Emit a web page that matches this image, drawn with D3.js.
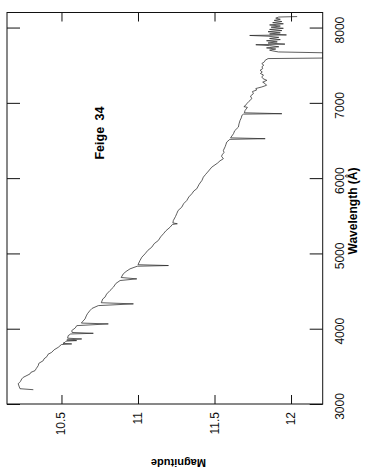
<!DOCTYPE html>
<html>
<head>
<meta charset="utf-8">
<script src="https://cdn.jsdelivr.net/npm/d3@7"></script>
<style>
  body { margin: 0; background: #fff; }
  svg { display: block; font-family: "Liberation Sans", Arial, sans-serif; }
  .tick text { font-size: 12px; fill: #111; }
  .tick line { stroke: #111; stroke-width: 1; }
</style>
</head>
<body>
<svg id="chart" width="366" height="473"></svg>
<script>
// spectrum of Feige 34
const wavelength = [
  3190, 3203, 3240, 3270, 3285, 3300, 3332, 3354, 3399, 3420, 3443, 3470, 3509, 3540, 3576, 3600, 3630, 3660, 3686, 3720, 3753,
  3790, 3798, 3806, 3819, 3835, 3842, 3850, 3864, 3874, 3908, 3930, 3939, 3950, 3975, 4010, 4041,
  4064, 4075, 4100, 4130, 4170, 4200, 4241, 4270, 4307, 4330, 4345, 4396, 4418, 4460, 4507, 4551, 4600, 4640, 4662, 4680,
  4729, 4760, 4795, 4830, 4839, 4850, 4906, 4950, 4995, 5040, 5083, 5130, 5172, 5220, 5261, 5300, 5349, 5385, 5394, 5405, 5437,
  5490, 5527, 5570, 5614, 5660, 5703, 5750, 5793, 5830, 5859, 5920, 5970, 6013, 6050, 6080, 6146, 6200, 6230, 6258, 6290, 6310, 6340, 6368, 6420,
  6450, 6479, 6515, 6524, 6535, 6590, 6630, 6678, 6720, 6767, 6800, 6834, 6850, 6856, 6868, 6900, 6940, 6950, 6960, 6989,
  7020, 7056, 7090, 7122, 7150, 7170, 7190, 7211, 7233, 7255, 7275, 7299, 7320, 7343, 7370, 7390, 7410, 7432, 7455, 7480, 7500, 7521, 7545, 7565, 7588,
  7595, 7665, 7676, 7690, 7700, 7715, 7730, 7745, 7760, 7772, 7780, 7795, 7810, 7825, 7840,
  7855, 7870, 7885, 7895, 7902, 7915, 7930, 7945, 7960, 7975, 7990, 8005, 8020, 8035, 8050,
  8065, 8080, 8095, 8110, 8125, 8140, 8146
];
const magnitude = [
  10.316, 10.229, 10.222, 10.217, 10.226, 10.232, 10.240, 10.250, 10.294, 10.300, 10.327, 10.335, 10.348, 10.352, 10.381, 10.386, 10.405, 10.412, 10.436, 10.452, 10.479,
  10.500, 10.567, 10.510, 10.523, 10.530, 10.599, 10.535, 10.632, 10.540, 10.544, 10.560, 10.708, 10.570, 10.567, 10.590, 10.600,
  10.806, 10.630, 10.640, 10.654, 10.662, 10.670, 10.686, 10.700, 10.741, 10.970, 10.760, 10.770, 10.784, 10.795, 10.817, 10.839, 10.855, 10.883, 10.992, 10.890,
  10.904, 10.922, 10.948, 10.995, 11.199, 11.000, 11.013, 11.025, 11.046, 11.064, 11.090, 11.106, 11.133, 11.148, 11.166, 11.182, 11.210, 11.225, 11.257, 11.228, 11.231,
  11.245, 11.253, 11.262, 11.286, 11.298, 11.319, 11.332, 11.352, 11.365, 11.384, 11.400, 11.418, 11.427, 11.442, 11.455, 11.482, 11.520, 11.536, 11.558, 11.546, 11.550, 11.562, 11.558, 11.570,
  11.575, 11.580, 11.600, 11.831, 11.605, 11.624, 11.632, 11.656, 11.660, 11.667, 11.675, 11.679, 11.690, 11.940, 11.695, 11.700, 11.715, 11.692, 11.700, 11.711,
  11.725, 11.744, 11.735, 11.754, 11.748, 11.775, 11.770, 11.809, 11.840, 11.831, 11.815, 11.842, 11.818, 11.809, 11.820, 11.800, 11.812, 11.798, 11.815, 11.810, 11.822, 11.809, 11.826, 11.831, 11.850,
  12.210, 12.210, 11.918, 11.880, 11.860, 11.900, 11.840, 11.920, 11.860, 11.770, 11.960, 11.850, 11.910, 11.840, 11.930,
  11.860, 11.920, 11.850, 11.730, 11.970, 11.860, 11.930, 11.850, 11.940, 11.860, 11.950, 11.870, 11.930, 11.860, 11.950,
  11.880, 11.940, 11.890, 11.930, 11.900, 11.920, 12.040
];
const wavelengthTicks = [3000, 4000, 5000, 6000, 7000, 8000];
const magnitudeTicks = [10.5, 11, 11.5, 12];

const svg = d3.select('#chart');
const plotLeft = 7, plotRight = 322.7, plotTop = 12.5, plotBottom = 404;

// magnitude runs left -> right, wavelength bottom -> top (the page is turned)
const x = d3.scaleLinear().domain([10.144, 12.207]).range([plotLeft, plotRight]);
const y = d3.scaleLinear().domain([3000, 8200]).range([plotBottom, plotTop]);

svg.append('rect').attr('width', 366).attr('height', 473).attr('fill', '#fff');

svg.append('clipPath').attr('id', 'plot')
  .append('rect')
  .attr('x', plotLeft).attr('y', plotTop)
  .attr('width', plotRight - plotLeft).attr('height', plotBottom - plotTop);

const data = wavelength.map((w, i) => ({ w, m: magnitude[i] }));

svg.append('path')
  .datum(data)
  .attr('clip-path', 'url(#plot)')
  .attr('fill', 'none')
  .attr('stroke', '#2a2a2a')
  .attr('stroke-width', 0.75)
  .attr('stroke-linejoin', 'round')
  .attr('d', d3.line().x((d) => x(d.m)).y((d) => y(d.w)));

// bottom axis: inward ticks, labels turned
const gBottom = svg.append('g')
  .attr('transform', `translate(0,${plotBottom})`)
  .call(d3.axisBottom(x).tickValues(magnitudeTicks).tickSize(-9).tickSizeOuter(0)
    .tickFormat((d) => d === 10.5 || d === 11.5 ? d3.format('.1f')(d) : d3.format('d')(d)));
gBottom.select('.domain').remove();
gBottom.selectAll('text')
  .attr('y', null).attr('dy', null)
  .attr('text-anchor', 'end')
  .attr('transform', 'translate(3.5,8) rotate(-90)');

// top ticks
const gTop = svg.append('g')
  .attr('transform', `translate(0,${plotTop})`)
  .call(d3.axisTop(x).tickValues(magnitudeTicks).tickSize(-9).tickSizeOuter(0).tickFormat(''));
gTop.select('.domain').remove();

// right axis: wavelength
const gRight = svg.append('g')
  .attr('transform', `translate(${plotRight},0)`)
  .call(d3.axisRight(y).tickValues(wavelengthTicks).tickSize(-13).tickSizeOuter(0).tickFormat(d3.format('d')));
gRight.select('.domain').remove();
gRight.selectAll('text')
  .attr('x', null).attr('dy', null)
  .attr('text-anchor', 'middle')
  .attr('transform', 'translate(21,2) rotate(-90)');

// left ticks
const gLeft = svg.append('g')
  .attr('transform', `translate(${plotLeft},0)`)
  .call(d3.axisRight(y).tickValues(wavelengthTicks).tickSize(13).tickSizeOuter(0).tickFormat(''));
gLeft.select('.domain').remove();

svg.append('rect')
  .attr('x', plotLeft).attr('y', plotTop)
  .attr('width', plotRight - plotLeft).attr('height', plotBottom - plotTop)
  .attr('fill', 'none')
  .attr('stroke', '#111')
  .attr('stroke-width', 1);

svg.append('text')
  .attr('transform', 'translate(357,211) rotate(-90)')
  .attr('text-anchor', 'middle')
  .attr('font-size', 12)
  .attr('font-weight', 'bold')
  .text('Wavelength (Å)');

svg.append('text')
  .attr('transform', 'translate(178.5,459) rotate(180)')
  .attr('text-anchor', 'middle')
  .attr('font-size', 11)
  .attr('font-weight', 'bold')
  .text('Magnitude');

svg.append('text')
  .attr('transform', 'translate(103.5,133) rotate(-90)')
  .attr('text-anchor', 'middle')
  .attr('font-size', 12.5)
  .attr('font-weight', 'bold')
  .attr('word-spacing', 3)
  .text('Feige 34');
</script>
</body>
</html>
